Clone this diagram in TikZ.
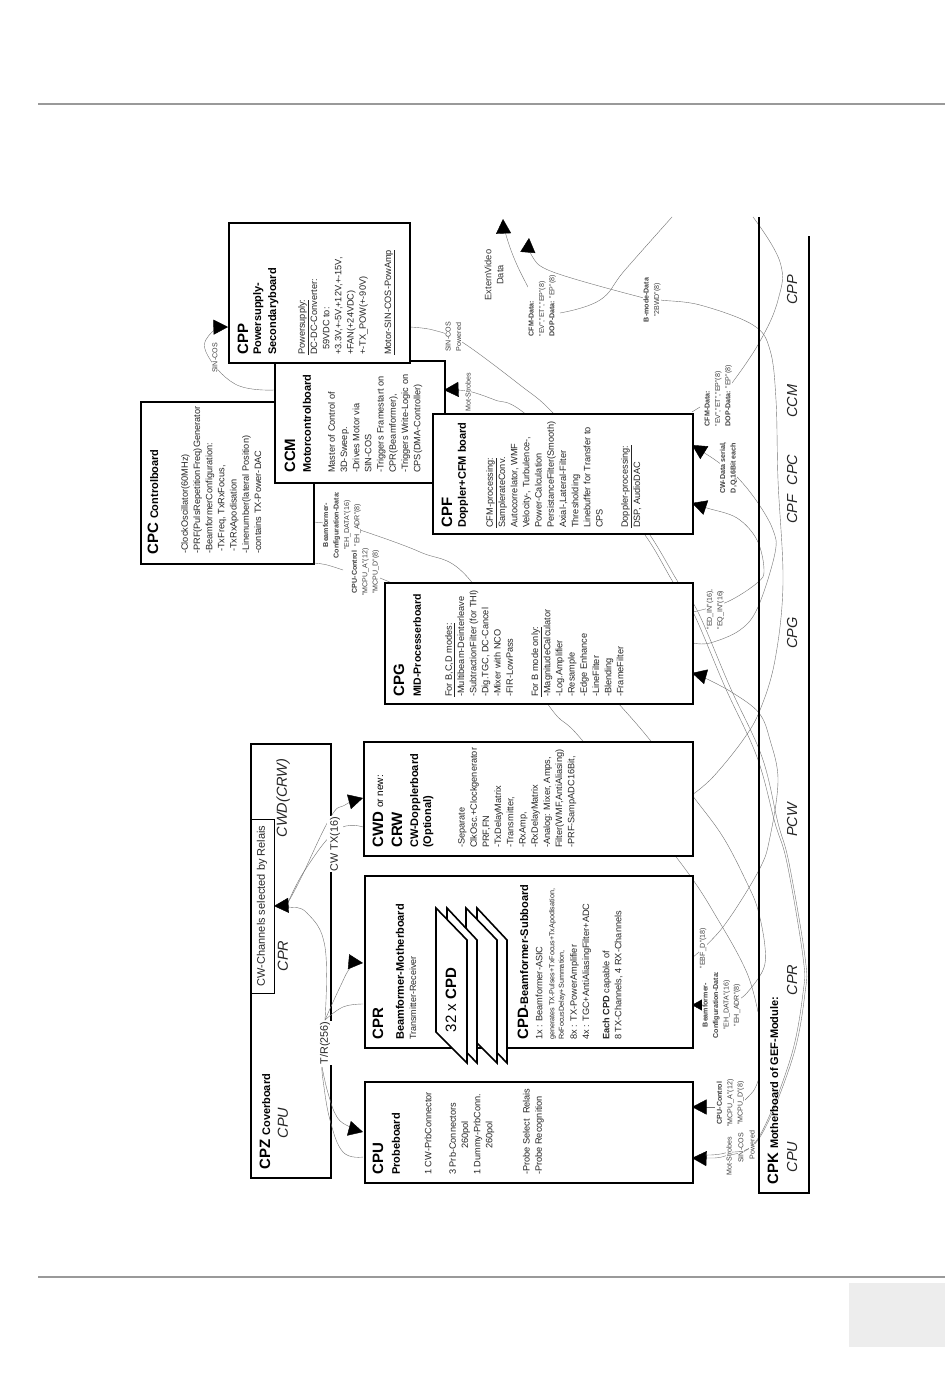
\documentclass[tikz,border=0pt]{standalone}
\usepackage{fontspec}
\setmainfont{Liberation Sans}
\usetikzlibrary{arrows.meta}
\newcommand{\ttlbig}{\fontsize{15}{17}\selectfont\bfseries}
\tikzset{
  bighead/.tip={Triangle[length=14.5pt,width=15pt,black]},
  smallhead/.tip={Triangle[length=10pt,width=11pt,black]},
  board/.style={draw=black,fill=white,line width=1.7pt,inner sep=0pt,anchor=north west},
  wire/.style={draw=black!55,line width=0.4pt},
  rt/.style={rotate=90,inner sep=0pt,text=black!85},
  ttl/.style={rt,anchor=west,text=black,font=\fontsize{15}{17}\selectfont\bfseries},
  sub/.style={rt,anchor=west,text=black,font=\fontsize{11}{13}\selectfont\bfseries},
  body/.style={rt,anchor=north west,align=left,font=\fontsize{9.2}{12.2}\selectfont,
     execute at begin node={\rule{0pt}{7pt}}},
  ital/.style={rt,anchor=center,font=\fontsize{14.5}{16}\selectfont\itshape},
  lab/.style={rt,anchor=center,align=center,fill=white,inner sep=0.5pt,text=black!75,
     font=\fontsize{7.1}{10.4}\selectfont},
  labl/.style={rt,anchor=north west,align=left,fill=white,inner sep=0.5pt,text=black!75,
     font=\fontsize{7.1}{10.4}\selectfont},
  cardp/.style={draw=black,fill=white,line width=1.6pt,line join=miter},
  pagerule/.style={draw=black!40,line width=1.6pt}
}
\begin{document}
\begin{tikzpicture}[x=1pt,y=-1pt]
\useasboundingbox (0,0) rectangle (950,1379);
\fill[white] (0,0) rectangle (950,1379);
% page furniture
\coordinate (ruleTopL) at (38,104); \coordinate (ruleTopR) at (945,104);
\coordinate (ruleBotL) at (38,1277); \coordinate (ruleBotR) at (945,1277);
\draw[pagerule] (ruleTopL) -- (ruleTopR);
\draw[pagerule] (ruleBotL) -- (ruleBotR);
\fill[black!7] (849,1283) rectangle (945,1347);
% cover board (wires cross its edge)
\node[board,minimum width=80pt,minimum height=434pt] (cpz) at (250,743) {};
\node[draw=black,fill=white,line width=0.7pt,inner sep=0pt,anchor=north west,minimum width=23pt,minimum height=174pt] (relais) at (251,819) {};
% end points of connectors
\coordinate (ccmL) at (274,390);
\coordinate (cppL) at (228,327);
\coordinate (cppR) at (409,327);
\coordinate (ccmR) at (444,390);
\coordinate (cpuA) at (692,1158);
\coordinate (cpuB) at (692,1107);
\coordinate (cprB) at (692,1005);
\coordinate (cprD) at (692,958);
\coordinate (cwdR) at (692,795);
\coordinate (cpgA) at (693,612);
\coordinate (cpgB) at (693,643);
\coordinate (cpgC) at (692,673);
\coordinate (cpfA) at (692,445);
\coordinate (cpfB) at (692,503);
\coordinate (cpfC) at (692,412);
\coordinate (cpcA) at (313,522);
\coordinate (cpcB) at (313,563);
\coordinate (extA) at (503,219);
\coordinate (extB) at (529,238);
\coordinate (relA) at (274,906);
\coordinate (cwdA) at (363,827);
\coordinate (cwdB) at (363,798);
\coordinate (cprA) at (363,963);
\coordinate (cprC) at (363,1004);
\coordinate (prbA) at (363,1132);
\coordinate (prbB) at (363,1157);
\coordinate (trA) at (325,1020);
\coordinate (trB) at (322,1067);
\coordinate (dopA) at (732,383);
\coordinate (dopB) at (753,217);
\coordinate (dopC) at (560,313);
\coordinate (dopD) at (672,217);
\coordinate (cfmLab) at (535,300);
\coordinate (cfmStub) at (700,407);
\coordinate (adrEnd) at (735,1000);
\coordinate (adrTop) at (360,530);
\coordinate (mcpuTop) at (380,578);
\coordinate (dataEnd) at (758,1012);
\coordinate (cpcStubA) at (325,523);
\coordinate (cpcStubB) at (343,570);
\coordinate (mcpuA) at (759,1078);
\coordinate (mcpuB) at (745,1100);
\coordinate (ctrlLab) at (715,1107);
\coordinate (cfgLab) at (703,1005);
% connectors (most pass behind the boards)
\draw[wire,-{bighead}] plot[smooth,tension=.7] coordinates {(ccmL) (235,384) (206,352) (212,332) (cppL)};
\draw[wire,{bighead}-{bighead}] plot[smooth,tension=.6] coordinates {(ccmR) (457,390) (472,392) (495,400) (523,412) (600,480) (645,535) (673,582) (693,612) (725,687) (757,757) (775,823) (787,863) (803,957) (803,993) (790,1060) (757,1140) (725,1156) (706,1158) (cpuA)};
\draw[wire] plot[smooth,tension=.6] coordinates {(cppR) (433,330) (462,342) (520,385) (553,413) (610,480) (650,535) (678,582) (698,612) (730,687) (762,757) (778,823) (789,863) (805,957) (805,993) (792,1060) (758,1140) (725,1153) (705,1155)};
\draw[wire] plot[smooth,tension=.7] coordinates {(dopA) (759,343) (778,300) (780,262) (dopB)};
\draw[wire] plot[smooth,tension=.7] coordinates {(dopC) (600,300) (625,270) (dopD)};
\draw[wire,-{bighead}] plot[smooth,tension=.6] coordinates {(cwdR) (713,777) (743,740) (760,710) (775,660) (783,583) (778,480) (776,400) (770,350) (753,325) (700,305) (660,300) (640,297) (553,272) (532,256) (extB)};
\draw[wire,-{bighead}] plot[smooth,tension=.7] coordinates {(cfmLab) (517,265) (506,235) (extA)};
\draw[wire,-{bighead}] plot[smooth,tension=.6] coordinates {(cpgB) (710,643) (740,630) (758,607) (775,553) (773,530) (758,503) (738,478) (718,462) (703,452) (cpfA)};
\draw[wire,-{bighead}] plot[smooth,tension=.6] coordinates {(cpgA) (727,602) (757,583) (764,570) (757,540) (737,518) (707,508) (cpfB)};
\draw[wire,-{bighead}] plot[smooth,tension=.6] coordinates {(cprD) (723,927) (759,870) (770,837) (778,780) (770,740) (759,713) (733,693) (705,678) (cpgC)};
\draw[wire] plot[smooth,tension=.6] coordinates {(mcpuTop) (500,630) (600,684) (618,703) (650,740) (cwdR) (723,837) (747,883) (758,910) (765,947) (763,970) (745,995) (adrEnd)};
\draw[wire] plot[smooth,tension=.6] coordinates {(adrTop) (420,552) (470,580) (547,703) (582,740) (680,862) (720,923) (747,973) (dataEnd)};
\draw[wire] (cpcA) -- (cpcStubA);
\draw[wire] (cpcB) .. controls (325,564) .. (cpcStubB);
\draw[wire] (mcpuA) .. controls (755,1090) .. (mcpuB);
\draw[wire] (cpfC) -- (cfmStub);
\draw[wire,-{bighead}] (ctrlLab) -- (cpuB);
\draw[wire,-{smallhead}] (cfgLab) -- (cprB);
\draw[wire] plot[smooth,tension=.7] coordinates {(cwdA) (337,830) (305,870) (287,905)};
\draw[wire,{bighead}-] plot[smooth,tension=.7] coordinates {(cwdB) (345,805) (330,818) (300,880) (287,904)};
\draw[wire,-{bighead}] plot[smooth,tension=.7] coordinates {(trA) (325,947) (307,913) (288,907) (relA)};
\draw[wire,-{bighead}] plot[smooth,tension=.7] coordinates {(trA) (340,987) (351,967) (cprA)};
\draw[wire] plot[smooth,tension=.7] coordinates {(cprC) (343,1007) (trA)};
\draw[wire,-{bighead}] plot[smooth,tension=.7] coordinates {(trB) (328,1093) (337,1117) (350,1127) (prbA)};
\draw[wire] plot[smooth,tension=.7] coordinates {(prbB) (343,1152) (330,1120) (323,1080) (trB)};
% boards
\node[board,minimum width=173pt,minimum height=162pt] (cpc) at (140,401) {};
\node[board,minimum width=170pt,minimum height=122pt] (ccm) at (274,360) {};
\node[board,minimum width=181pt,minimum height=140pt] (cpp) at (228,222) {};
\node[board,minimum width=260pt,minimum height=120pt] (cpf) at (432,413) {};
\node[board,minimum width=308pt,minimum height=121pt] (cpg) at (384,582) {};
\node[board,minimum width=329pt,minimum height=114pt] (cwd) at (363,741) {};
\node[board,minimum width=328pt,minimum height=172pt] (cpr) at (364,875) {};
\node[board,minimum width=328pt,minimum height=101pt] (cpu) at (364,1081) {};
% 32 x CPD cards
\draw[cardp] (477,908) -- (507,940) -- (507,1063) -- (477,1032) -- cycle;
\draw[cardp] (466,908) -- (497,940) -- (497,1063) -- (466,1032) -- cycle;
\draw[cardp] (447,908) -- (477,940) -- (477,1063) -- (447,1032) -- cycle;
\draw[cardp] (436,908) -- (467,940) -- (467,1063) -- (436,1032) -- cycle;
\node[rt,text=black,anchor=center,font=\fontsize{15}{17}\selectfont] (cards) at (451,1000) {32 x \textbf{CPD}};
% motherboard strip
\node[inner sep=0pt] (cpkA) at (759,217) {};
\node[inner sep=0pt] (cpkB) at (809,236) {};
\draw[black,line width=1.7pt] (cpkA.center) -- (759,1193) -- (809,1193) -- (cpkB.center);
% --- CPC
\node[rt,anchor=west,text=black] (tCpc) at (153,555) {\ttlbig CPC \fontsize{11}{13}\selectfont Controlboard};
\node[body] (bCpc) at (181,554) {-ClockOscillator(60MHz)\\-PRF(PulsRepetitionFreq)Generator\\-BeamformerConfiguration:\\\hspace*{2pt}-TxFreq, TxRxFocus,\\\hspace*{2pt}-TxRxApodisation\\-Linenumber(lateral Position)\\-contains TX-Power-DAC};
% --- CPP
\node[ttl] (tCpp) at (243,355) {CPP};
\node[sub,anchor=north west,align=left,font=\fontsize{11}{15}\selectfont\bfseries] (sCpp) at (253,355) {Powersupply-\\Secondaryboard};
\node[body] (bCpp) at (298,355) {\underline{Powersupply:}\\DC-DC-Converter:\\\hspace*{5pt}59VDC to:\\+3.3V,+-5V,+12V,+-15V,\\+FAN(+24VDC)\\+-TX\_POW(+-90V)\\[13pt]\underline{Motor-SIN-COS-PowAmp}};
% --- CCM
\node[ttl] (tCcm) at (290,473) {CCM};
\node[sub] (sCcm) at (307,473) {Motorcontrolboard};
\node[body] (bCcm) at (328,473) {Master of Control of\\3D-Sweep.\\-Drives Motor via\\SIN-COS\\-Triggers Framestart on\\CPR(Beamformer),\\-Triggers Write-Logic on\\CPS(DMA-Controller)};
% --- CPF
\node[ttl] (tCpf) at (447,528) {CPF};
\node[sub] (sCpf) at (463,528) {Doppler+CFM board};
\node[body] (bCpf) at (486,528) {\underline{CFM-processing:}\\SamplerateConv.\\Autocorrelator, WMF\\Velocity-, Turbulence-,\\Power-Calculation\\PersistanceFilter(Smooth)\\Axial-,Lateral-Filter\\Thresholding\\Linebuffer for Transfer to\\CPS\\[13pt]\underline{Doppler-processing:}\\DSP, AudioDAC};
% --- CPG
\node[ttl] (tCpg) at (399,697) {CPG};
\node[sub,font=\fontsize{10.5}{13}\selectfont\bfseries] (sCpg) at (417,697) {MID-Processerboard};
\node[body] (bCpg) at (445,697) {\underline{For B,C,D modes:}\\-Multibeam-Deinterleave\\-SubtractionFilter (for THI)\\-Dig.TGC, DC-Cancel\\-Mixer with NCO\\-FIR-LowPass\\[13pt]\underline{For B mode only:}\\-MagnitudeCalculator\\-Log.Amplifier\\-Resample\\-Edge Enhance\\-LineFilter\\-Blending\\-FrameFilter};
% --- CWD
\node[rt,anchor=west,text=black] (tCwd) at (378,848) {\ttlbig CWD \fontsize{10}{12}\selectfont\mdseries or new:};
\node[ttl] (tCrw) at (397,848) {CRW};
\node[sub,anchor=north west,align=left,font=\fontsize{11}{13}\selectfont\bfseries] (sCwd) at (410,848) {CW-Dopplerboard\\(Optional)};
\node[body] (bCwd) at (458,848) {-Separate\\ClkOsc.+Clockgenerator\\PRF,FN\\-TxDelayMatrix\\-Transmitter,\\-RxAmp,\\-RxDelayMatrix\\-Analog: Mixer, Amps,\\Filter(WMF,AntiAliasing)\\-PRF-SampADC16Bit,};
% --- CPR
\node[ttl] (tCpr) at (378,1040) {CPR};
\node[sub] (sCpr) at (400,1040) {Beamformer-Motherboard};
\node[rt,anchor=west,font=\fontsize{9}{11}\selectfont] (rCpr) at (413,1040) {Transmitter-Receiver};
\node[rt,anchor=west,text=black] (tCpd) at (523,1040) {\ttlbig CPD\fontsize{11}{13}\selectfont -Beamformer-Subboard};
\node[rt,anchor=west,font=\fontsize{9.2}{11}\selectfont] (b1Cpd) at (539,1040) {1x : Beamformer-ASIC};
\node[rt,anchor=north west,align=left,font=\fontsize{7.2}{9.4}\selectfont] (b2Cpd) at (549,1040) {generates TX-Pulses+TxFocus+TxApodisation,\\RxFocusDelay+Summation,};
\node[body] (b3Cpd) at (570,1040) {8x : TX-PowerAmplifier\\4x : TGC+AntiAliasingFilter+ADC\\[8pt]\textbf{Each CPD} capable of\\8 TX-Channels, 4 RX-Channels};
% --- CPU
\node[ttl] (tCpu) at (378,1175) {CPU};
\node[sub] (sCpu) at (396,1175) {Probeboard};
\node[rt,anchor=west,font=\fontsize{9.2}{11}\selectfont] (b0Cpu) at (428,1175) {1 CW-PrbConnector};
\node[body] (b1Cpu) at (449,1175) {3 Prb-Connectors\\\hspace*{26pt}260pol\\1 Dummy-PrbConn.\\\hspace*{26pt}260pol\\[25pt]-Probe Select\ \ Relais\\-Probe Recognition};
% --- CPZ
\node[rt,anchor=west,text=black] (tCpz) at (265,1170) {\ttlbig CPZ \fontsize{11}{13}\selectfont Coverboard};
\node[ital] (zCpu) at (283,1123) {CPU};
\node[ital] (zCpr) at (283,956) {CPR};
\node[ital] (zCwd) at (283,798) {CWD(CRW)};
\node[rt,anchor=center,font=\fontsize{11}{13}\selectfont] (tRelais) at (262,906) {CW-Channels selected by Relais};
\node[rt,anchor=center,fill=white,inner xsep=1pt,inner ysep=3pt,font=\fontsize{10.8}{13}\selectfont] (lTr) at (325,1043) {T/R(256)};
\node[rt,anchor=center,fill=white,inner xsep=1pt,inner ysep=3pt,font=\fontsize{10.8}{13}\selectfont] (lCw) at (335,844) {CW TX(16)};
% --- CPK
\node[rt,anchor=west,text=black] (tCpk) at (773,1185) {\ttlbig CPK \fontsize{11}{13}\selectfont Motherboard of GEF-Module:};
\node[ital] (kCpu) at (792,1157) {CPU};
\node[ital] (kCpr) at (792,980) {CPR};
\node[ital] (kPcw) at (792,820) {PCW};
\node[ital] (kCpg) at (792,633) {CPG};
\node[ital] (kCpf) at (792,509) {CPF};
\node[ital] (kCpc) at (792,470) {CPC};
\node[ital] (kCcm) at (792,401) {CCM};
\node[ital] (kCpp) at (792,290) {CPP};
% --- small labels
\node[lab] (l1) at (215,358) {SIN-COS};
\node[lab] (l2) at (453.5,337) {SIN-COS\\Powered};
\node[lab] (l3) at (468,392) {Mot-Strobes};
\node[rt,anchor=center,align=center,text=black!80,font=\fontsize{9.3}{12}\selectfont] (l4) at (494,275) {ExternVideo\\Data};
\node[labl] (l5) at (528,337) {\textbf{CFM-Data:}\\"EV","ET","EP"(8)\\\textbf{DOP-Data:} "EP"(8)};
\node[lab] (l6) at (652,300) {\textbf{B-mode-Data}\\"2BWD"(8)};
\node[labl] (l7) at (704,427) {\textbf{CFM-Data:}\\"EV","ET","EP"(8)\\\textbf{DOP-Data:} "EP"(8)};
\node[lab] (l8) at (728.5,468) {\textbf{CW-Data serial,}\\\textbf{D,Q,16Bit each}};
\node[labl] (l9) at (706,630) {"ED\_IN"(16),\\"EQ\_IN"(16)};
\node[lab] (l10) at (703,948) {"EBF\_D"(18)};
\node[lab] (l11) at (721.5,1005) {\textbf{Beamformer-}\\\textbf{Configuration-Data:}\\"EH\_DATA"(16)\\"EH\_ADR"(8)};
\node[lab] (l12) at (730.5,1103) {\textbf{CPU-Control}\\"MCPU\_A"(12)\\"MCPU\_D"(8)};
\node[lab] (l13) at (729,1156) {Mot-Strobes};
\node[lab] (l14) at (741,1148) {SIN-COS};
\node[lab] (l15) at (752,1145) {Powered};
\node[lab] (l16) at (342,525) {\textbf{Beamformer-}\\\textbf{Configuration-Data:}\\"EH\_DATA"(16)\\"EH\_ADR"(8)};
\node[lab] (l17) at (365.5,572) {\textbf{CPU-Control}\\"MCPU\_A"(12)\\"MCPU\_D"(8)};
\end{tikzpicture}
\end{document}
